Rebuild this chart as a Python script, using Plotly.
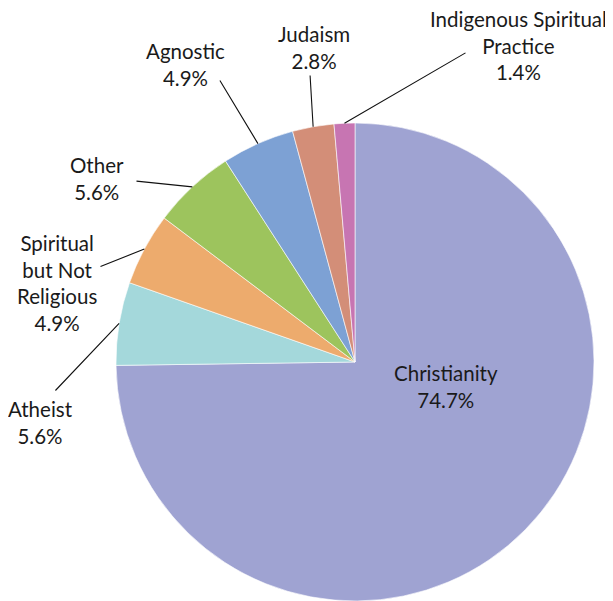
import math
import plotly.graph_objects as go

labels = ["Christianity", "Atheist", "Spiritual but Not Religious", "Other",
          "Agnostic", "Judaism", "Indigenous Spiritual Practice"]
values = [74.7, 5.6, 4.9, 5.6, 4.9, 2.8, 1.4]
display_labels = ["Christianity", "Atheist", "Spiritual<br>but Not<br>Religious", "Other",
                  "Agnostic", "Judaism", "Indigenous Spiritual<br>Practice"]
colors = ["#9FA3D2", "#A4D8DB", "#EDAB6D", "#9DC45D", "#7DA1D4", "#D38E78", "#C775B2"]

W, H = 613, 601
OFF = 8  # page body offset in pixels
# pie placement (pixels, in page coordinates)
CX, CY, R = 355, 362, 239
cxf, cyf = CX - OFF, CY - OFF
dom_x = [(cxf - R) / W, (cxf + R) / W]
dom_y = [(H - cyf - R) / H, (H - cyf + R) / H]

# label text centers and leader tail points (page pixels)
label_pos = [(446, 386), (40, 422), (57, 283), (97, 179), (185, 64), (314, 48), (518, 46)]
tail_pos = [None, (54, 392), (99, 267), (135, 181), (219, 79), (310, 74), (467, 52)]

FONT = "Lato, 'Open Sans', sans-serif"


def px(x):
    return (x - OFF) / W


def py(y):
    return 1 - (y - OFF) / H


fig = go.Figure(go.Pie(
    labels=labels, values=values, sort=False, direction="clockwise", rotation=0,
    marker=dict(colors=colors, line=dict(color="white", width=0.6)),
    textinfo="none", domain=dict(x=dom_x, y=dom_y), showlegend=False,
    hovertemplate="%{label}: %{value}%<extra></extra>",
))

total = sum(values)
cum = 0.0
annotations = []
for i, (lab, v) in enumerate(zip(display_labels, values)):
    mid = (cum + v / 2) / total * 2 * math.pi
    cum += v
    tx, ty = label_pos[i]
    annotations.append(dict(
        x=px(tx), y=py(ty), xref="paper", yref="paper",
        text=f"{lab}<br>{v:.1f}%", showarrow=False, xanchor="center", yanchor="middle",
        font=dict(family=FONT, size=20.5, color="#1a1a1a"), align="center",
    ))
    if tail_pos[i] is not None:
        hx = CX + R * math.sin(mid)
        hy = CY - R * math.cos(mid)
        sx, sy = tail_pos[i]
        annotations.append(dict(
            x=px(hx), y=py(hy), xref="paper", yref="paper", text="",
            showarrow=True, arrowhead=0, arrowwidth=1.1, arrowcolor="#111",
            ax=sx - hx, ay=sy - hy, standoff=0, startstandoff=0,
        ))

fig.update_layout(
    width=W, height=H, margin=dict(l=0, r=0, t=0, b=0),
    paper_bgcolor="white", plot_bgcolor="white",
    annotations=annotations,
    font=dict(family=FONT),
)

fig.write_html("out.html")
